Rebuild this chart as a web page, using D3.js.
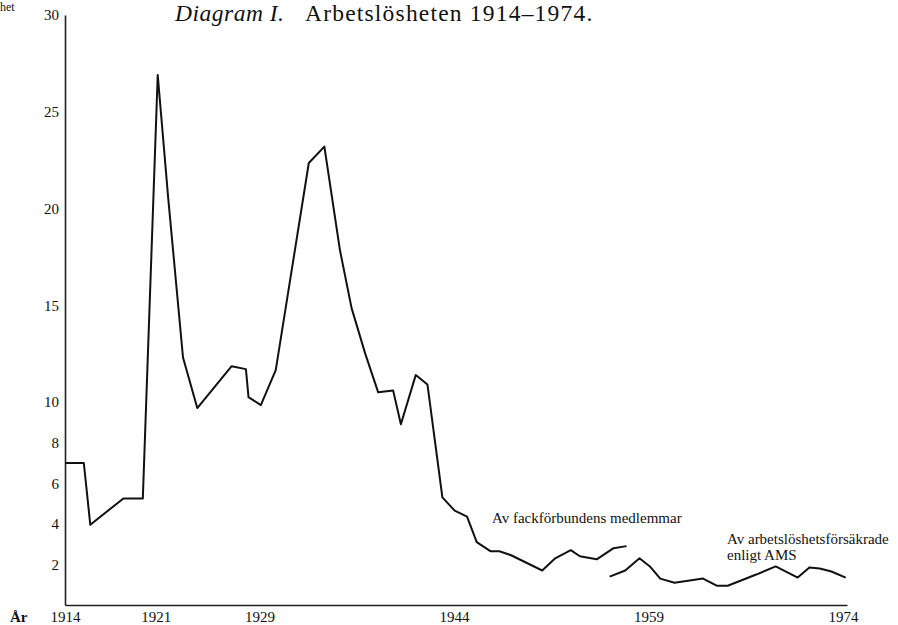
<!DOCTYPE html>
<html>
<head>
<meta charset="utf-8">
<script src="https://cdn.jsdelivr.net/npm/d3@7"></script>
<style>
  body { margin: 0; background: #fff; }
  svg { display: block; font-family: "Liberation Serif", "DejaVu Serif", serif; }
</style>
</head>
<body>
<svg id="chart" width="898" height="625"></svg>
<script>
// fackförbundens medlemmar, year (as placed on the drawing) and percent
const unionYears = [1914, 1915.45, 1915.95, 1918.5, 1920, 1921.15, 1921.95, 1923.1, 1924.2, 1926.85,
  1927.95, 1928.15, 1929.1, 1930.25, 1932.8, 1934, 1935.2, 1936.1, 1937.15, 1938.15,
  1939.3, 1939.9, 1941.05, 1941.95, 1943.1, 1944.05, 1945, 1945.75, 1946.8, 1947.5,
  1948.4, 1950.8, 1951.8, 1953, 1953.7, 1955, 1956.3, 1957.3];
const unionValues = [7.0, 7.0, 3.95, 5.25, 5.25, 26.9, 20.6, 12.3, 9.7, 11.85,
  11.7, 10.25, 9.85, 11.65, 22.35, 23.2, 17.85, 14.85, 12.5, 10.5,
  10.6, 8.9, 11.4, 10.9, 5.3, 4.65, 4.35, 3.1, 2.65, 2.65,
  2.45, 1.7, 2.3, 2.7, 2.4, 2.25, 2.8, 2.9];

// arbetslöshetsförsäkrade enligt AMS
const amsYears = [1956, 1957.2, 1958.3, 1959.1, 1959.9, 1961, 1963.2, 1964.25, 1965.1, 1967.3,
  1968.8, 1970.5, 1971.4, 1972.2, 1973.1, 1974.2];
const amsValues = [1.4, 1.7, 2.3, 1.9, 1.3, 1.1, 1.3, 0.95, 0.95, 1.5,
  1.9, 1.35, 1.85, 1.8, 1.65, 1.35];

const yearTicks = [1914, 1921, 1929, 1944, 1959, 1974];
const valueTicks = [2, 4, 6, 8, 10, 15, 20, 25, 30];

const svg = d3.select("#chart");

const x = d3.scaleLinear().domain([1914, 1974.3]).range([65, 847]);
// the printed scale is slightly wider below 10 than above
const y = d3.scaleLinear().domain([0, 10, 30]).range([605, 402, 15]);

const line = d3.line()
  .x(d => x(d[0]))
  .y(d => y(d[1]));

const union = d3.zip(unionYears, unionValues);
const ams = d3.zip(amsYears, amsValues);

// axes
const yAxis = svg.append("g")
  .attr("transform", `translate(${x(1914)},0)`)
  .call(d3.axisLeft(y).tickValues(valueTicks).tickSize(0).tickPadding(6).tickFormat(d3.format("d")));

const xAxis = svg.append("g")
  .attr("transform", `translate(0,${y(0)})`)
  .call(d3.axisBottom(x).tickValues(yearTicks).tickSize(0).tickPadding(6).tickFormat(d3.format("d")));

[yAxis, xAxis].forEach(g => {
  g.select(".domain").attr("stroke", "#222").attr("stroke-width", 1.6);
  g.selectAll("text")
    .attr("fill", "#111")
    .style("font-family", "Liberation Serif, serif")
    .style("font-size", "15px");
});

// series
svg.append("path")
  .datum(union)
  .attr("fill", "none")
  .attr("stroke", "#111")
  .attr("stroke-width", 2)
  .attr("stroke-linejoin", "round")
  .attr("d", line);

svg.append("path")
  .datum(ams)
  .attr("fill", "none")
  .attr("stroke", "#111")
  .attr("stroke-width", 2)
  .attr("stroke-linejoin", "round")
  .attr("d", line);

// texts
svg.append("text")
  .attr("x", 0).attr("y", 11)
  .style("font-size", "12px")
  .attr("fill", "#111")
  .text("het");

svg.append("text")
  .attr("x", 10).attr("y", 622)
  .style("font-size", "15px")
  .style("font-weight", "bold")
  .attr("fill", "#111")
  .text("År");

svg.append("text")
  .attr("x", 175).attr("y", 21)
  .style("font-size", "23.5px")
  .style("font-style", "italic")
  .style("letter-spacing", "0.5px")
  .attr("fill", "#111")
  .text("Diagram I.");

svg.append("text")
  .attr("x", 305).attr("y", 21)
  .style("font-size", "23.5px")
  .style("letter-spacing", "1.2px")
  .attr("fill", "#111")
  .text("Arbetslösheten 1914–1974.");

svg.append("text")
  .attr("x", 492).attr("y", 523)
  .style("font-size", "15px")
  .attr("fill", "#111")
  .text("Av fackförbundens medlemmar");

const amsLabel = svg.append("text")
  .attr("x", 727).attr("y", 544)
  .style("font-size", "15px")
  .attr("fill", "#111");
amsLabel.append("tspan").attr("x", 727).text("Av arbetslöshetsförsäkrade");
amsLabel.append("tspan").attr("x", 727).attr("dy", 16).text("enligt AMS");
</script>
</body>
</html>
